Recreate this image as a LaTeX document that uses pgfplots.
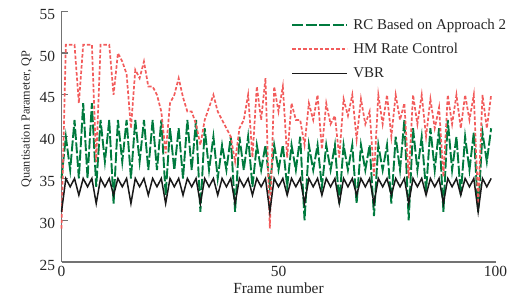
\documentclass[border=0pt]{standalone}
\usepackage{fontspec}
\setmainfont{Liberation Serif}
\usepackage{pgfplots}
\usepackage{pgfplotstable}
\pgfplotsset{compat=1.18}
\definecolor{rcgreen}{RGB}{0,122,62}
\definecolor{hmred}{RGB}{242,92,92}
\definecolor{axgray}{RGB}{115,115,115}

\pgfplotstableread{
f rc hm vbr
0 35 29 31
1 40 51 35
2 36 51 34
3 42 51 35
4 35 44 33
5 44 51 35
6 35 51 34
7 44 51 35
8 34 37 32
9 42 51 35
10 37 51 34
11 42 51 35
12 32 45 33
13 42 50 35
14 37 49 34
15 42 47.5 35
16 35 41 32
17 42 48 35
18 37 47 34
19 42 49 35
20 36 46 33
21 42 46 35
22 36 45 34
23 42 43 35
24 33 38 32
25 41 44 35
26 36 45 34
27 41 47 35
28 35 44.7 33
29 42 43 35
30 36 43 34
31 42 41.5 35
32 31 39 32
33 41 42 35
34 36 43.5 34
35 40 45 35
36 35 43 33
37 39 42 35
38 36 41 34
39 40 40 35
40 31 37 32
41 40 41 35
42 36 42 34
43 40 45 35
44 34 37.5 33
45 39 46 35
46 36 42 34
47 39 47 35
48 34 29 31
49 39 46 35
50 36 43 34
51 39 46 35
52 34 37.5 33
53 39 44 35
54 36 42 34
55 40 42 35
56 30 39 32
57 39 44 35
58 36 42 34
59 39 45 35
60 34 38.5 33
61 39 44 35
62 36 41.5 34
63 39 42.5 35
64 32 37.5 32
65 39 44.5 35
66 36 42.5 34
67 39 45 35
68 32 39.7 33
69 39 44.5 35
70 36 41.5 34
71 39 43 35
72 30.5 35.3 32
73 39 45 35
74 36 41.5 34
75 39 45 35
76 32 40 33
77 40 45 35
78 36 42 34
79 42 44 35
80 30 35 32
81 41 45 35
82 36 41.5 34
83 40 45 35
84 33.5 40 33
85 41 44.5 35
86 36 41 34
87 41 43.5 35
88 31 35.2 32
89 42 45 35
90 36 41.5 34
91 40 45 35
92 33 41 33
93 40 45 35
94 36 42 34
95 40.5 45 35
96 31 32 31
97 40.5 45 35
98 37 41 34
99 41 45 35
}\datatable

\begin{document}
\begin{tikzpicture}
\path[use as bounding box] (-61.5bp,-36bp) rectangle (457.5bp,262bp);
\begin{axis}[
  at={(0,0)}, anchor=south west,
  scale only axis, width=434bp, height=250.7bp,
  xmin=0, xmax=100, ymin=25, ymax=55,
  axis x line*=bottom, axis y line*=left,
  x axis line style={-}, y axis line style={-},
  axis line style={draw=axgray, line width=1.8bp},
  xtick={0,50,100}, ytick={25,30,...,55},
  x tick style={draw=none},
  y tick style={draw=axgray, line width=1.2bp},
  major tick length=7bp, tick align=inside,
  /pgf/number format/assume math mode=true,
  tick label style={font=\fontsize{15.5}{18}\selectfont, text=black!85},
  yticklabel style={xshift=-3bp, yshift=-3bp},
  xticklabel style={yshift=-1bp},
  xlabel={Frame number},
  xlabel style={font=\fontsize{15.5}{18}\selectfont, text=black!85, yshift=1bp},
  ylabel={Quantisation Parameter, QP},
  ylabel style={font=\fontsize{12.3}{14}\selectfont, text=black!85, yshift=1bp, xshift=17.5bp},
  legend image code/.code={\draw[#1] (0bp,0bp) -- (55bp,0bp);},
  legend style={at={(rel axis cs:0.530,1)}, anchor=north west, draw=none, fill=none,
    inner sep=0pt, outer sep=0pt, row sep=8bp, yshift=-6bp,
    font=\fontsize{15}{18}\selectfont,
    nodes={inner sep=1bp, text height=11bp, text depth=3bp, text=black!85},
    /tikz/every odd column/.append style={column sep=4bp}},
  legend cell align=left,
  clip=false,
]
\addplot[rcgreen, line width=1.9bp, dash pattern=on 11bp off 2.5bp] table[x=f, y=rc] {\datatable};
\addlegendentry{RC Based on Approach 2}
\addplot[hmred, line width=1.7bp, dash pattern=on 3.5bp off 2bp] table[x=f, y=hm] {\datatable};
\addlegendentry{HM Rate Control}
\addplot[black!90, line width=1.5bp] table[x=f, y=vbr] {\datatable};
\addlegendentry{VBR}
\end{axis}
\end{tikzpicture}
\end{document}
